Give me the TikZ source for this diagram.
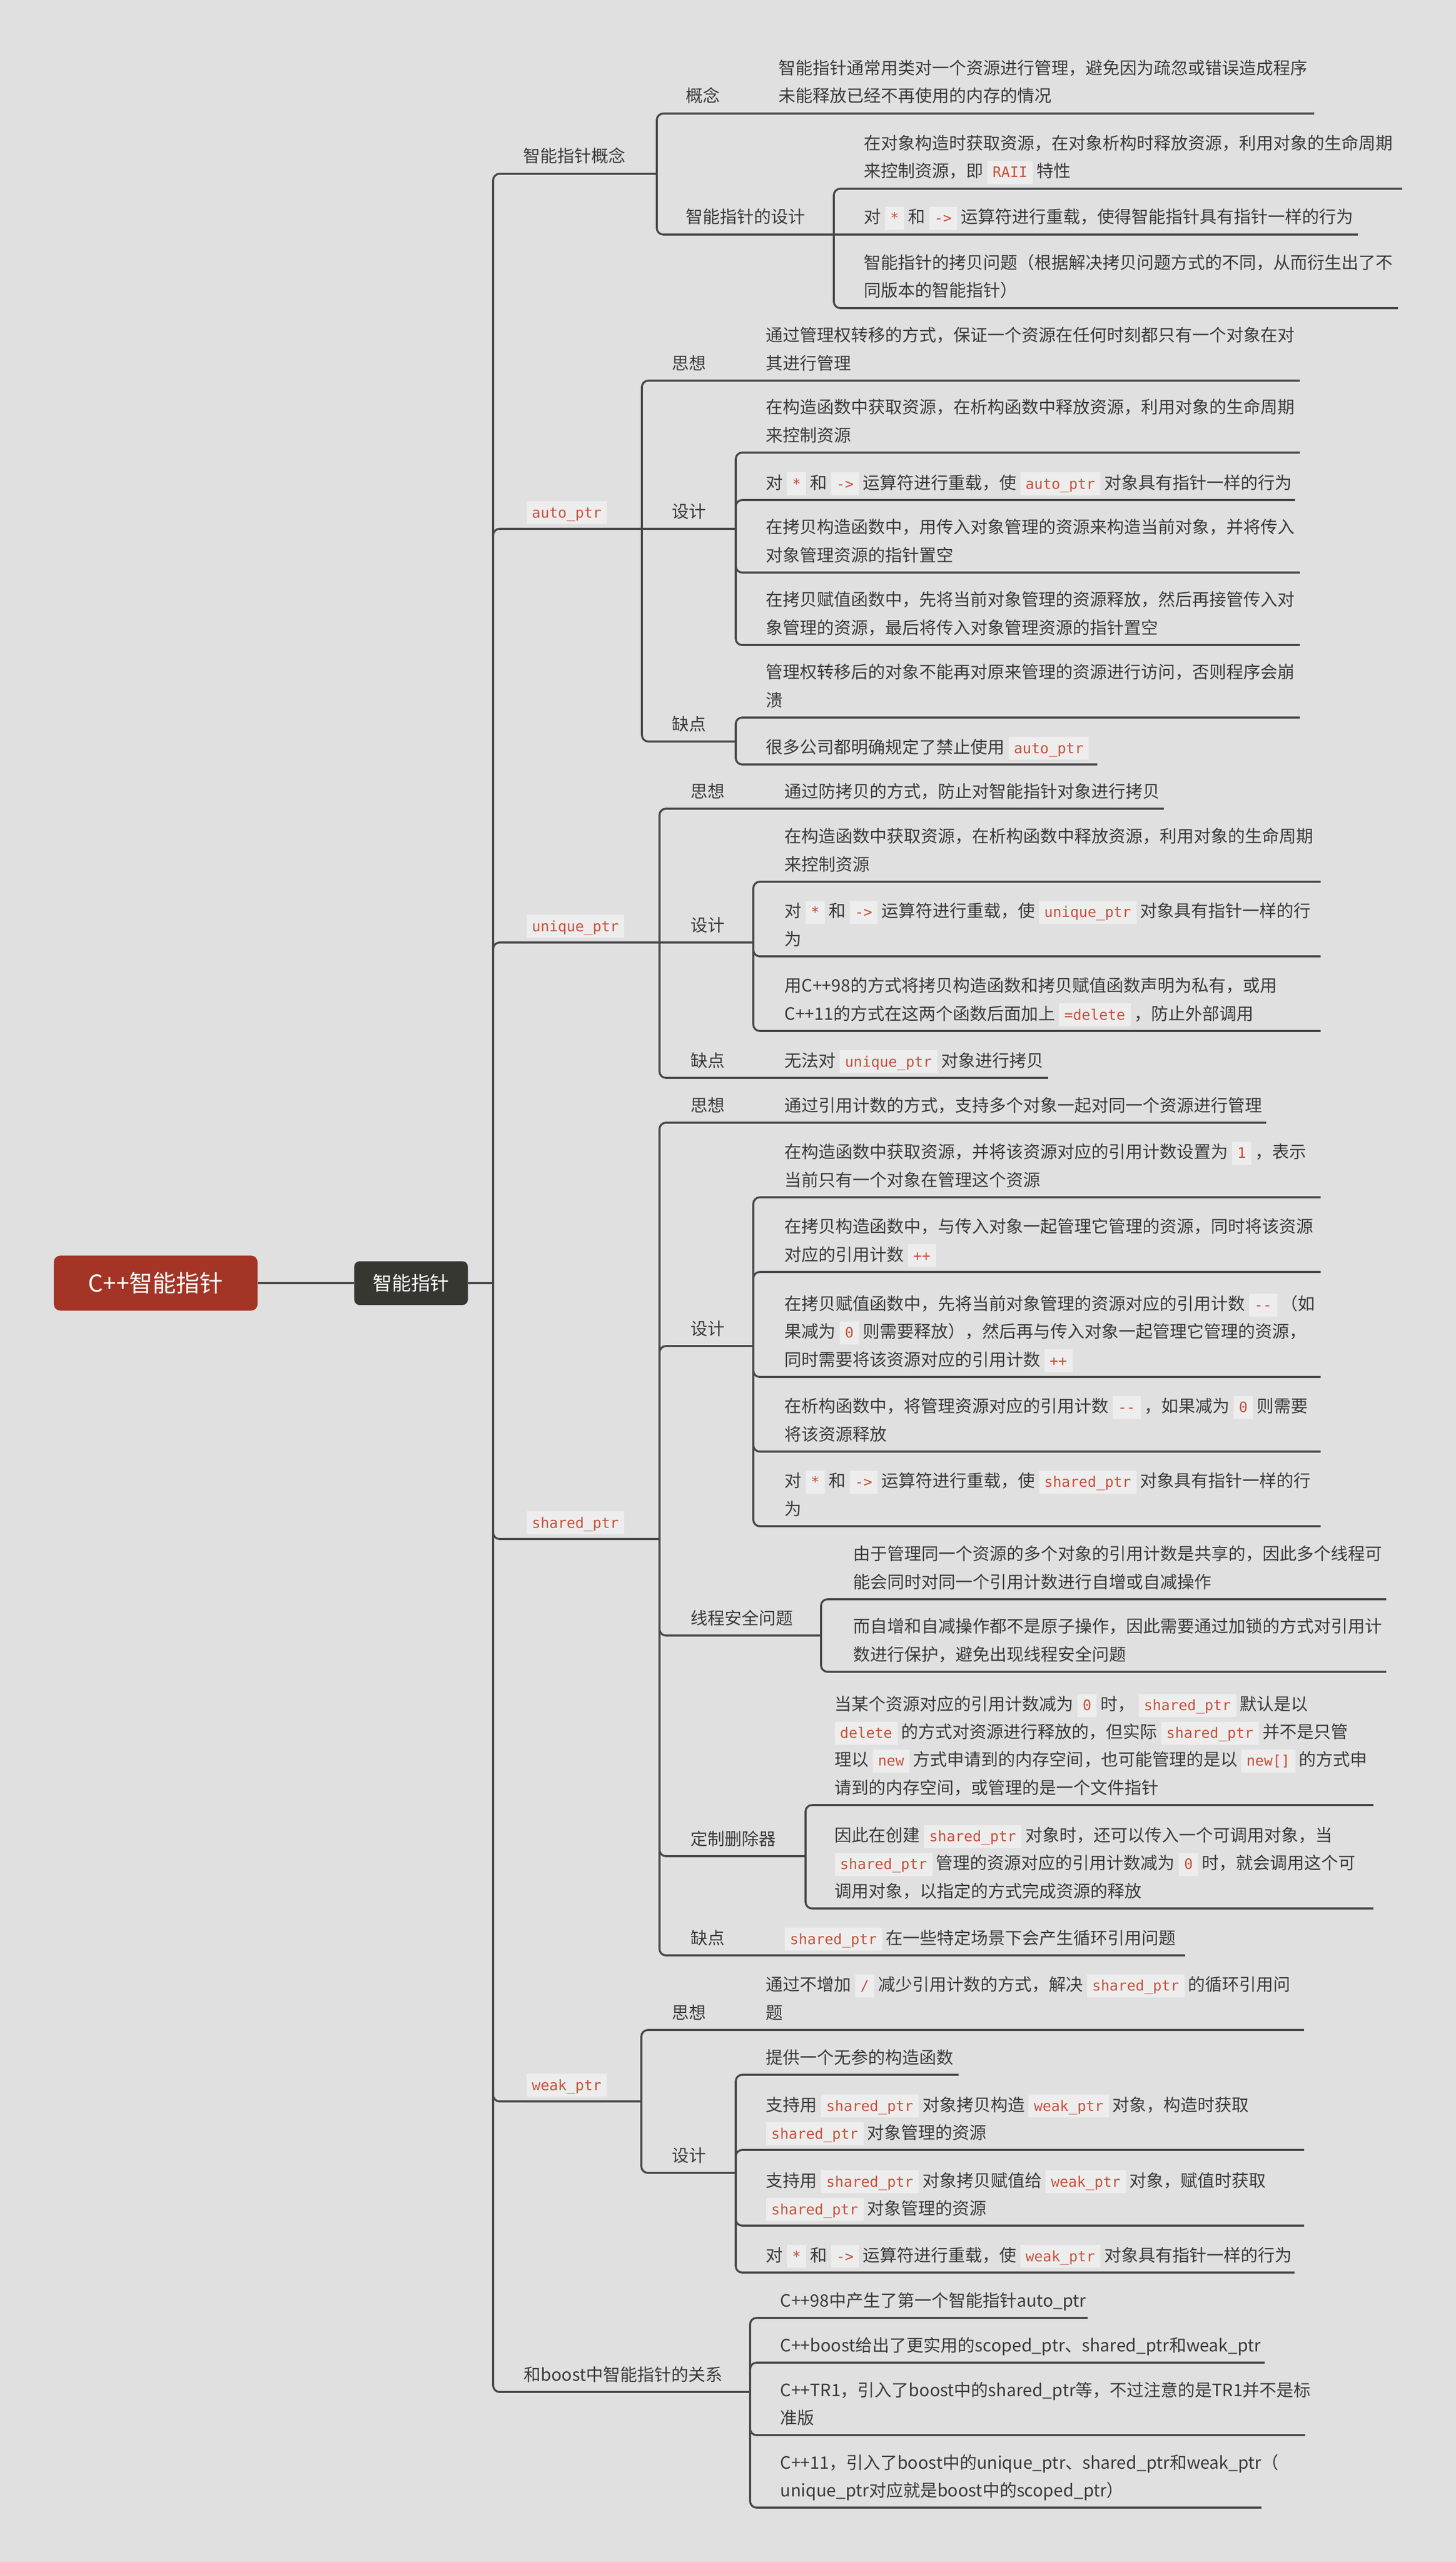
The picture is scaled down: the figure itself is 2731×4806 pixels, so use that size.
\documentclass[tikz,border=0pt]{standalone}
\usepackage{fontspec}
\setmainfont{Noto Sans CJK SC}
\newfontfamily\codefont{DejaVu Sans Mono}

\definecolor{bgc}{RGB}{224,224,224}
\definecolor{linec}{RGB}{72,72,76}
\definecolor{textc}{RGB}{58,58,58}
\definecolor{codebg}{RGB}{236,237,236}
\definecolor{codered}{RGB}{200,80,60}
\definecolor{rootred}{RGB}{164,52,37}
\definecolor{maindark}{RGB}{55,55,50}

\newcommand\tsize{\fontsize{9.1pt}{14.8pt}\selectfont}
\newcommand\code[1]{{\setlength\fboxsep{0pt}\colorbox{codebg}{\hspace{0.1cm}\rule[-0.12cm]{0pt}{0.43cm}\textcolor{codered}{\codefont\fontsize{7.7pt}{9pt}\selectfont #1}\hspace{0.1cm}}}}
\newcommand\lns[1]{\begin{tabular}[b]{@{}l@{}}#1\end{tabular}}

\begin{document}
\begin{tikzpicture}[x=0.01cm, y=-0.01cm,
    branch/.style={draw=linec, line width=1.05pt, rounded corners=0.12cm},
    topic/.style={anchor=base west, inner sep=0pt, text=textc, font=\tsize},
    rootbox/.style={fill=rootred, rounded corners=0.12cm, text=white, font=\fontsize{12.5pt}{15pt}\selectfont, minimum width=3.82cm, minimum height=1.03cm},
    mainbox/.style={fill=maindark, rounded corners=0.1cm, text=white, font=\fontsize{10.2pt}{12pt}\selectfont, minimum width=2.13cm, minimum height=0.82cm}]

    \useasboundingbox (0,0) rectangle (2731,4806);
    \fill[bgc] (0,0) rectangle (2731,4806); % background

    % Root
    \node[rootbox] (root) at (292,2407) {C++智能指针};
    \node[mainbox] (main) at (771,2407) {智能指针};
    \coordinate (hub) at (925,2407); % spine
    \draw[branch] (root.east) -- (main.west);
    \draw[branch] (main.east) -- (hub);

    % 智能指针概念
    \coordinate (concept) at (1232,326);
    \node[topic] (concept-t) at (981,305) {智能指针概念};
    \draw[branch] (hub) |- (concept);

    \coordinate (concept-idea) at (1404,213);
    \node[topic] (concept-idea-t) at (1286,192) {概念};
    \draw[branch] (concept) |- (concept-idea);
    \coordinate (concept-idea-1) at (2465,213);
    \node[topic] (concept-idea-1-t) at (1460,192) {\lns{智能指针通常用类对一个资源进行管理，避免因为疏忽或错误造成程序\\未能释放已经不再使用的内存的情况}};
    \draw[branch] (concept-idea) -- (concept-idea-1);

    \coordinate (concept-design) at (1564,440);
    \node[topic] (concept-design-t) at (1286,419) {智能指针的设计};
    \draw[branch] (concept) |- (concept-design);
    \coordinate (concept-design-1) at (2630,354);
    \node[topic] (concept-design-1-t) at (1620,333) {\lns{在对象构造时获取资源，在对象析构时释放资源，利用对象的生命周期\\来控制资源，即 \code{RAII} 特性}};
    \draw[branch] (concept-design) |- (concept-design-1);
    \coordinate (concept-design-2) at (2547,440);
    \node[topic] (concept-design-2-t) at (1620,419) {\lns{对 \code{*} 和 \code{->} 运算符进行重载，使得智能指针具有指针一样的行为}};
    \draw[branch] (concept-design) -- (concept-design-2);
    \coordinate (concept-design-3) at (2622,578);
    \node[topic] (concept-design-3-t) at (1620,557) {\lns{智能指针的拷贝问题（根据解决拷贝问题方式的不同，从而衍生出了不\\同版本的智能指针）}};
    \draw[branch] (concept-design) |- (concept-design-3);

    % auto_ptr
    \coordinate (auto) at (1204,992);
    \node[topic] (auto-t) at (987,971) {\code{auto\_ptr}};
    \draw[branch] (hub) |- (auto);

    \coordinate (auto-idea) at (1380,714);
    \node[topic] (auto-idea-t) at (1260,693) {思想};
    \draw[branch] (auto) |- (auto-idea);
    \coordinate (auto-idea-1) at (2438,714);
    \node[topic] (auto-idea-1-t) at (1436,693) {\lns{通过管理权转移的方式，保证一个资源在任何时刻都只有一个对象在对\\其进行管理}};
    \draw[branch] (auto-idea) -- (auto-idea-1);

    \coordinate (auto-design) at (1380,992);
    \node[topic] (auto-design-t) at (1260,971) {设计};
    \draw[branch] (auto) -- (auto-design);
    \coordinate (auto-design-1) at (2438,849);
    \node[topic] (auto-design-1-t) at (1436,828) {\lns{在构造函数中获取资源，在析构函数中释放资源，利用对象的生命周期\\来控制资源}};
    \draw[branch] (auto-design) |- (auto-design-1);
    \coordinate (auto-design-2) at (2429,938);
    \node[topic] (auto-design-2-t) at (1436,917) {\lns{对 \code{*} 和 \code{->} 运算符进行重载，使 \code{auto\_ptr} 对象具有指针一样的行为}};
    \draw[branch] (auto-design) |- (auto-design-2);
    \coordinate (auto-design-3) at (2438,1074);
    \node[topic] (auto-design-3-t) at (1436,1053) {\lns{在拷贝构造函数中，用传入对象管理的资源来构造当前对象，并将传入\\对象管理资源的指针置空}};
    \draw[branch] (auto-design) |- (auto-design-3);
    \coordinate (auto-design-4) at (2438,1210);
    \node[topic] (auto-design-4-t) at (1436,1189) {\lns{在拷贝赋值函数中，先将当前对象管理的资源释放，然后再接管传入对\\象管理的资源，最后将传入对象管理资源的指针置空}};
    \draw[branch] (auto-design) |- (auto-design-4);

    \coordinate (auto-cons) at (1380,1391);
    \node[topic] (auto-cons-t) at (1260,1370) {缺点};
    \draw[branch] (auto) |- (auto-cons);
    \coordinate (auto-cons-1) at (2438,1346);
    \node[topic] (auto-cons-1-t) at (1436,1325) {\lns{管理权转移后的对象不能再对原来管理的资源进行访问，否则程序会崩\\溃}};
    \draw[branch] (auto-cons) |- (auto-cons-1);
    \coordinate (auto-cons-2) at (2058,1434);
    \node[topic] (auto-cons-2-t) at (1436,1413) {\lns{很多公司都明确规定了禁止使用 \code{auto\_ptr}}};
    \draw[branch] (auto-cons) |- (auto-cons-2);

    % unique_ptr
    \coordinate (unique) at (1237,1768);
    \node[topic] (unique-t) at (987,1747) {\code{unique\_ptr}};
    \draw[branch] (hub) |- (unique);

    \coordinate (unique-idea) at (1413,1517);
    \node[topic] (unique-idea-t) at (1295,1496) {思想};
    \draw[branch] (unique) |- (unique-idea);
    \coordinate (unique-idea-1) at (2183,1517);
    \node[topic] (unique-idea-1-t) at (1471,1496) {\lns{通过防拷贝的方式，防止对智能指针对象进行拷贝}};
    \draw[branch] (unique-idea) -- (unique-idea-1);

    \coordinate (unique-design) at (1413,1768);
    \node[topic] (unique-design-t) at (1295,1747) {设计};
    \draw[branch] (unique) -- (unique-design);
    \coordinate (unique-design-1) at (2477,1654);
    \node[topic] (unique-design-1-t) at (1471,1633) {\lns{在构造函数中获取资源，在析构函数中释放资源，利用对象的生命周期\\来控制资源}};
    \draw[branch] (unique-design) |- (unique-design-1);
    \coordinate (unique-design-2) at (2477,1794);
    \node[topic] (unique-design-2-t) at (1471,1773) {\lns{对 \code{*} 和 \code{->} 运算符进行重载，使 \code{unique\_ptr} 对象具有指针一样的行\\为}};
    \draw[branch] (unique-design) |- (unique-design-2);
    \coordinate (unique-design-3) at (2477,1934);
    \node[topic] (unique-design-3-t) at (1471,1913) {\lns{用C++98的方式将拷贝构造函数和拷贝赋值函数声明为私有，或用\\C++11的方式在这两个函数后面加上 \code{=delete} ，防止外部调用}};
    \draw[branch] (unique-design) |- (unique-design-3);

    \coordinate (unique-cons) at (1413,2022);
    \node[topic] (unique-cons-t) at (1295,2001) {缺点};
    \draw[branch] (unique) |- (unique-cons);
    \coordinate (unique-cons-1) at (1966,2022);
    \node[topic] (unique-cons-1-t) at (1471,2001) {\lns{无法对 \code{unique\_ptr} 对象进行拷贝}};
    \draw[branch] (unique-cons) -- (unique-cons-1);

    % shared_ptr
    \coordinate (shared) at (1237,2887);
    \node[topic] (shared-t) at (987,2866) {\code{shared\_ptr}};
    \draw[branch] (hub) |- (shared);

    \coordinate (shared-idea) at (1413,2106);
    \node[topic] (shared-idea-t) at (1295,2085) {思想};
    \draw[branch] (shared) |- (shared-idea);
    \coordinate (shared-idea-1) at (2375,2106);
    \node[topic] (shared-idea-1-t) at (1471,2085) {\lns{通过引用计数的方式，支持多个对象一起对同一个资源进行管理}};
    \draw[branch] (shared-idea) -- (shared-idea-1);

    \coordinate (shared-design) at (1413,2525);
    \node[topic] (shared-design-t) at (1295,2504) {设计};
    \draw[branch] (shared) |- (shared-design);
    \coordinate (shared-design-1) at (2477,2246);
    \node[topic] (shared-design-1-t) at (1471,2225) {\lns{在构造函数中获取资源，并将该资源对应的引用计数设置为 \code{1} ，表示\\当前只有一个对象在管理这个资源}};
    \draw[branch] (shared-design) |- (shared-design-1);
    \coordinate (shared-design-2) at (2477,2386);
    \node[topic] (shared-design-2-t) at (1471,2365) {\lns{在拷贝构造函数中，与传入对象一起管理它管理的资源，同时将该资源\\对应的引用计数 \code{++}}};
    \draw[branch] (shared-design) |- (shared-design-2);
    \coordinate (shared-design-3) at (2477,2583);
    \node[topic] (shared-design-3-t) at (1471,2562) {\lns{在拷贝赋值函数中，先将当前对象管理的资源对应的引用计数 \code{-\kern0pt-} （如\\果减为 \code{0} 则需要释放），然后再与传入对象一起管理它管理的资源，\\同时需要将该资源对应的引用计数 \code{++}}};
    \draw[branch] (shared-design) |- (shared-design-3);
    \coordinate (shared-design-4) at (2477,2723);
    \node[topic] (shared-design-4-t) at (1471,2702) {\lns{在析构函数中，将管理资源对应的引用计数 \code{-\kern0pt-} ，如果减为 \code{0} 则需要\\将该资源释放}};
    \draw[branch] (shared-design) |- (shared-design-4);
    \coordinate (shared-design-5) at (2477,2863);
    \node[topic] (shared-design-5-t) at (1471,2842) {\lns{对 \code{*} 和 \code{->} 运算符进行重载，使 \code{shared\_ptr} 对象具有指针一样的行\\为}};
    \draw[branch] (shared-design) |- (shared-design-5);

    \coordinate (shared-thread) at (1540,3068);
    \node[topic] (shared-thread-t) at (1295,3047) {线程安全问题};
    \draw[branch] (shared) |- (shared-thread);
    \coordinate (shared-thread-1) at (2600,3000);
    \node[topic] (shared-thread-1-t) at (1600,2979) {\lns{由于管理同一个资源的多个对象的引用计数是共享的，因此多个线程可\\能会同时对同一个引用计数进行自增或自减操作}};
    \draw[branch] (shared-thread) |- (shared-thread-1);
    \coordinate (shared-thread-2) at (2600,3136);
    \node[topic] (shared-thread-2-t) at (1600,3115) {\lns{而自增和自减操作都不是原子操作，因此需要通过加锁的方式对引用计\\数进行保护，避免出现线程安全问题}};
    \draw[branch] (shared-thread) |- (shared-thread-2);

    \coordinate (shared-deleter) at (1511,3482);
    \node[topic] (shared-deleter-t) at (1295,3461) {定制删除器};
    \draw[branch] (shared) |- (shared-deleter);
    \coordinate (shared-deleter-1) at (2576,3386);
    \node[topic] (shared-deleter-1-t) at (1565,3365) {\lns{当某个资源对应的引用计数减为 \code{0} 时， \code{shared\_ptr} 默认是以\\\code{delete} 的方式对资源进行释放的，但实际 \code{shared\_ptr} 并不是只管\\理以 \code{new} 方式申请到的内存空间，也可能管理的是以 \code{new[]} 的方式申\\请到的内存空间，或管理的是一个文件指针}};
    \draw[branch] (shared-deleter) |- (shared-deleter-1);
    \coordinate (shared-deleter-2) at (2576,3580);
    \node[topic] (shared-deleter-2-t) at (1565,3559) {\lns{因此在创建 \code{shared\_ptr} 对象时，还可以传入一个可调用对象，当\\\code{shared\_ptr} 管理的资源对应的引用计数减为 \code{0} 时，就会调用这个可\\调用对象，以指定的方式完成资源的释放}};
    \draw[branch] (shared-deleter) |- (shared-deleter-2);

    \coordinate (shared-cons) at (1413,3668);
    \node[topic] (shared-cons-t) at (1295,3647) {缺点};
    \draw[branch] (shared) |- (shared-cons);
    \coordinate (shared-cons-1) at (2223,3668);
    \node[topic] (shared-cons-1-t) at (1471,3647) {\lns{\code{shared\_ptr} 在一些特定场景下会产生循环引用问题}};
    \draw[branch] (shared-cons) -- (shared-cons-1);

    % weak_ptr
    \coordinate (weak) at (1203,3942);
    \node[topic] (weak-t) at (987,3921) {\code{weak\_ptr}};
    \draw[branch] (hub) |- (weak);

    \coordinate (weak-idea) at (1380,3808);
    \node[topic] (weak-idea-t) at (1260,3787) {思想};
    \draw[branch] (weak) |- (weak-idea);
    \coordinate (weak-idea-1) at (2446,3808);
    \node[topic] (weak-idea-1-t) at (1436,3787) {\lns{通过不增加 \code{/} 减少引用计数的方式，解决 \code{shared\_ptr} 的循环引用问\\题}};
    \draw[branch] (weak-idea) -- (weak-idea-1);

    \coordinate (weak-design) at (1380,4076);
    \node[topic] (weak-design-t) at (1260,4055) {设计};
    \draw[branch] (weak) |- (weak-design);
    \coordinate (weak-design-1) at (1798,3892);
    \node[topic] (weak-design-1-t) at (1436,3871) {\lns{提供一个无参的构造函数}};
    \draw[branch] (weak-design) |- (weak-design-1);
    \coordinate (weak-design-2) at (2446,4033);
    \node[topic] (weak-design-2-t) at (1436,4012) {\lns{支持用 \code{shared\_ptr} 对象拷贝构造 \code{weak\_ptr} 对象，构造时获取\\\code{shared\_ptr} 对象管理的资源}};
    \draw[branch] (weak-design) |- (weak-design-2);
    \coordinate (weak-design-3) at (2446,4175);
    \node[topic] (weak-design-3-t) at (1436,4154) {\lns{支持用 \code{shared\_ptr} 对象拷贝赋值给 \code{weak\_ptr} 对象，赋值时获取\\\code{shared\_ptr} 对象管理的资源}};
    \draw[branch] (weak-design) |- (weak-design-3);
    \coordinate (weak-design-4) at (2428,4263);
    \node[topic] (weak-design-4-t) at (1436,4242) {\lns{对 \code{*} 和 \code{->} 运算符进行重载，使 \code{weak\_ptr} 对象具有指针一样的行为}};
    \draw[branch] (weak-design) |- (weak-design-4);

    % 和boost中智能指针的关系
    \coordinate (boost) at (1407,4487);
    \node[topic] (boost-t) at (982,4466) {和boost中智能指针的关系};
    \draw[branch] (hub) |- (boost);
    \coordinate (boost-1) at (2040,4348);
    \node[topic] (boost-1-t) at (1463,4327) {\lns{C++98中产生了第一个智能指针auto\_ptr}};
    \draw[branch] (boost) |- (boost-1);
    \coordinate (boost-2) at (2372,4432);
    \node[topic] (boost-2-t) at (1463,4411) {\lns{C++boost给出了更实用的scoped\_ptr、shared\_ptr和weak\_ptr}};
    \draw[branch] (boost) |- (boost-2);
    \coordinate (boost-3) at (2448,4568);
    \node[topic] (boost-3-t) at (1463,4547) {\lns{C++TR1，引入了boost中的shared\_ptr等，不过注意的是TR1并不是标\\准版}};
    \draw[branch] (boost) |- (boost-3);
    \coordinate (boost-4) at (2366,4704);
    \node[topic] (boost-4-t) at (1463,4683) {\lns{C++11，引入了boost中的unique\_ptr、shared\_ptr和weak\_ptr（\\unique\_ptr对应就是boost中的scoped\_ptr）}};
    \draw[branch] (boost) |- (boost-4);

\end{tikzpicture}
\end{document}
